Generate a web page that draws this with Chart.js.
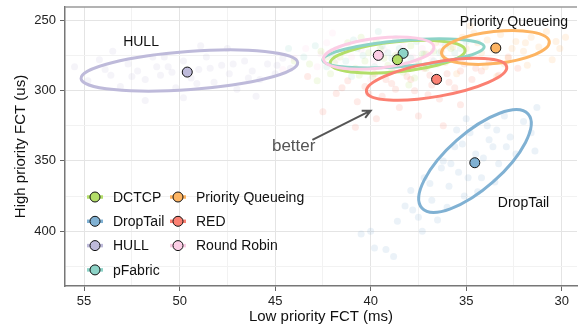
<!DOCTYPE html>
<html>
<head>
<meta charset="utf-8">
<script src="https://cdn.jsdelivr.net/npm/chart.js@4/dist/chart.umd.min.js"></script>
<style>
  html, body { margin: 0; padding: 0; background: #fff; }
  #wrap { width: 578px; height: 327px; }
</style>
</head>
<body>
<div id="wrap"><canvas id="grafico" width="578" height="327"></canvas></div>
<script>
// series (legend order) and colours
const seriesNames = ['DCTCP', 'DropTail', 'HULL', 'pFabric', 'Priority Queueing', 'RED', 'Round Robin'];
const seriesColors = ['#b3de69', '#80b1d3', '#bebada', '#8dd3c7', '#fdb462', '#fb8072', '#fccde5'];

// mean of each scheme (low prio FCT ms, high prio FCT us)
const meanX = [38.6, 34.55, 49.6, 38.3, 33.45, 36.55, 39.6];
const meanY = [278, 351.3, 286.8, 273.5, 269.7, 292, 274.9];

// ellipse: centre plus two conjugate half-axes, in data units
const ellCx = [38.59, 34.54, 49.49, 38.28, 33.47, 36.55, 39.58];
const ellCy = [275.9, 350.1, 285.7, 273.5, 269.3, 291.9, 273.3];
const ellUx = [-3.53, -2.78, -5.67, -4.22, -2.82, -3.67, -2.89];
const ellUy = [-4.77, -33.4, -5.69, -4.77, -4.13, -8.89, -4.48];
const ellVx = [-0.078, -0.96, -0.073, -0.057, -0.09, -0.157, -0.09];
const ellVy = [10.6, 14.7, 13.5, 9.21, 11.3, 12.0, 10.6];

// individual runs (faint dots)
const runsDCTCP = [[43.2,281],[42.6,272],[42.1,288],[41.6,276],[41.2,266],[40.8,284],[40.3,279],[39.9,290],[39.5,270],[39.1,282],[38.7,275],[38.3,287],[37.9,268],[37.5,279],[37.1,284],[36.7,272],[36.2,277],[35.8,270],[40.5,262],[42.8,293],[38,296],[44,279],
  [41.9,280],[40.1,273],[39.3,277],[38.9,286],[37.3,274],[36.5,281],[42.3,276],[40.6,289],[39.7,265],[37.7,291]];
const runsDropTail = [[40.5,402],[40,400],[39.8,412],[39.2,413],[38.6,393],[38.2,382],[37.9,371],[37.5,390],[37.2,362],[36.8,378],[36.5,392],[36.2,350],[35.9,368],[35.6,340],[35.4,358],[35.1,375],[34.8,330],[34.5,345],[34.2,362],[33.9,325],[33.6,340],[33.3,352],[33,318],[32.7,333],[32.4,345],[32,322],[31.6,330],[31.3,312],[36.3,355],[35,320],[33.5,365],[38.8,418],[37.3,400],[31.4,343],
  [35.8,352],[35.2,338],[34.9,362],[34.1,348],[33.8,335],[35.5,328],[36.9,366],[34.4,372],[32.9,340],[33.4,328],[36,383],[37.8,385]];
const runsHULL = [[55.5,283],[54.8,293],[54.2,278],[53.6,289],[53.1,297],[52.7,281],[52.2,286],[51.8,292],[51.4,276],[51,289],[50.6,283],[50.2,298],[49.8,279],[49.4,291],[49,285],[48.6,276],[48.2,294],[47.8,282],[47.4,288],[47,299],[46.6,279],[46.2,286],[45.8,292],[45.4,281],[45,288],[44.6,277],[44.2,284],[48.9,268],[51.8,307],[49.8,305],[47.5,270],[53.5,272],[46,304],
  [52.5,290],[51.2,283],[50.4,287],[48.4,284],[47.2,281],[46.4,291],[50.8,276],[44.9,282],[53.9,285],[49.1,295]];
const runsPFabric = [[43.5,276],[42.9,268],[42.3,283],[41.8,271],[41.3,279],[40.9,264],[40.4,275],[39.8,283],[39.4,268],[38.9,277],[38.5,270],[38.1,281],[37.6,265],[37.2,274],[36.7,279],[36.1,268],[35.6,273],[35,265],[39.6,258],[41,290],[44.3,270],
  [42,275],[40.7,270],[39.1,273],[37.9,277],[36.4,273],[35.3,270],[38.7,263],[41.5,284]];
const runsPQ = [[37.1,274],[36.6,266],[36.1,280],[35.7,269],[35.2,262],[34.8,276],[34.4,266],[34,283],[33.6,271],[33.2,260],[32.8,277],[32.4,265],[32,272],[31.6,262],[31.2,269],[30.8,258],[30.3,265],[29.8,262],[33.4,290],[35.5,288],[30.5,278],[34.8,254],[31.8,282],
  [35,270],[34.2,273],[33.9,264],[32.6,270],[31.9,266],[33,281],[34.6,259],[36.3,272],[30.1,270]];
const runsRED = [[41.8,302],[41.2,293],[40.7,308],[40.3,297],[39.8,288],[39.4,304],[38.9,295],[38.5,312],[38.1,290],[37.7,300],[37.2,284],[36.8,296],[36.4,306],[36,288],[35.6,298],[35.1,281],[34.7,292],[34.2,286],[33.8,280],[33.3,289],[32.8,276],[32.3,284],[42.5,315],[39.7,320],[37.5,318],[35.3,310],[43.3,290],[36.2,325],[40.8,326],
  [38.7,299],[37.9,292],[36.9,289],[35.9,294],[35.3,286],[39.2,292],[34.5,284],[37,303],[40.1,302],[41.5,298]];
const runsRR = [[44,277],[43.4,270],[42.8,283],[42.3,266],[41.8,278],[41.3,272],[40.8,285],[40.3,266],[39.8,279],[39.3,271],[38.8,283],[38.3,268],[37.8,276],[37.3,270],[36.8,278],[36.3,266],[42,259],[40,292],[44.6,285],
  [41,276],[40.5,271],[39.6,276],[38.6,274],[42.6,274],[37.6,281]];
const runs = [runsDCTCP, runsDropTail, runsHULL, runsPFabric, runsPQ, runsRED, runsRR];

// axis ticks (major get labels, minor only grid)
const xMajor = [30, 35, 40, 45, 50, 55];
const xMinor = [32.5, 37.5, 42.5, 47.5, 52.5];
const yMajor = [250, 300, 350, 400];
const yMinor = [275, 325, 375, 425];

// text annotations on the plot
const noteText = ['HULL', 'Priority Queueing', 'DropTail'];
const noteX = [52.02, 32.5, 32.0];
const noteY = [265.2, 251, 380.2];
const arrowFrom = [43.05, 335.1];
const arrowTo = [40.0, 314.3];
const betterPos = [44.03, 339.4];

const FONT = '"Liberation Sans", Arial, Helvetica, sans-serif';

function rgba(hex, a) {
  const n = parseInt(hex.slice(1), 16);
  return `rgba(${n >> 16},${(n >> 8) & 255},${n & 255},${a})`;
}

const datasets = [];
seriesNames.forEach((nombre, i) => {
  datasets.push({
    label: nombre,
    data: [{ x: meanX[i], y: meanY[i] }],
    backgroundColor: seriesColors[i],
    borderColor: '#111',
    borderWidth: 1,
    pointRadius: 5
  });
});
seriesNames.forEach((nombre, i) => {
  datasets.push({
    label: nombre + ' runs',
    data: runs[i].map(p => ({ x: p[0], y: p[1] })),
    backgroundColor: rgba(seriesColors[i], 0.16),
    borderWidth: 0,
    pointRadius: 3.5
  });
});

// ellipses go on top of the faint dots, under the means
const elipses = {
  id: 'elipses',
  afterDatasetDraw(chart, args) {
    if (args.index !== seriesNames.length) return;
    const ctx = chart.ctx;
    const sx = chart.scales.x, sy = chart.scales.y;
    const a = chart.chartArea;
    ctx.save();
    ctx.beginPath();
    ctx.rect(a.left, a.top, a.right - a.left, a.bottom - a.top);
    ctx.clip();
    for (let i = 0; i < seriesNames.length; i++) {
      const cx = sx.getPixelForValue(ellCx[i]);
      const cy = sy.getPixelForValue(ellCy[i]);
      const ux = sx.getPixelForValue(ellCx[i] + ellUx[i]) - cx;
      const uy = sy.getPixelForValue(ellCy[i] + ellUy[i]) - cy;
      const vx = sx.getPixelForValue(ellCx[i] + ellVx[i]) - cx;
      const vy = sy.getPixelForValue(ellCy[i] + ellVy[i]) - cy;
      ctx.save();
      ctx.beginPath();
      ctx.transform(ux, uy, vx, vy, cx, cy);
      ctx.arc(0, 0, 1, 0, Math.PI * 2);
      ctx.restore();
      ctx.strokeStyle = seriesColors[i];
      ctx.lineWidth = 3;
      ctx.stroke();
    }
    ctx.restore();
  }
};

const extras = {
  id: 'extras',
  afterDraw(chart) {
    const ctx = chart.ctx;
    const sx = chart.scales.x, sy = chart.scales.y;
    const a = chart.chartArea;
    ctx.save();
    // top border of the panel
    ctx.strokeStyle = '#9a9a9a';
    ctx.lineWidth = 1.5;
    ctx.beginPath();
    ctx.moveTo(a.left, a.top);
    ctx.lineTo(a.right, a.top);
    ctx.stroke();

    // labels
    ctx.fillStyle = '#111';
    ctx.font = '14px ' + FONT;
    ctx.textAlign = 'center';
    ctx.textBaseline = 'middle';
    noteText.forEach((t, i) => {
      ctx.fillText(t, sx.getPixelForValue(noteX[i]), sy.getPixelForValue(noteY[i]));
    });

    // better arrow
    const x0 = sx.getPixelForValue(arrowFrom[0]), y0 = sy.getPixelForValue(arrowFrom[1]);
    const x1 = sx.getPixelForValue(arrowTo[0]), y1 = sy.getPixelForValue(arrowTo[1]);
    ctx.strokeStyle = '#555';
    ctx.lineWidth = 2;
    ctx.beginPath();
    ctx.moveTo(x0, y0);
    ctx.lineTo(x1, y1);
    const ang = Math.atan2(y1 - y0, x1 - x0);
    ctx.moveTo(x1 - 9 * Math.cos(ang - 0.45), y1 - 9 * Math.sin(ang - 0.45));
    ctx.lineTo(x1, y1);
    ctx.lineTo(x1 - 9 * Math.cos(ang + 0.45), y1 - 9 * Math.sin(ang + 0.45));
    ctx.stroke();
    ctx.fillStyle = '#555';
    ctx.font = '17px ' + FONT;
    ctx.fillText('better', sx.getPixelForValue(betterPos[0]), sy.getPixelForValue(betterPos[1]));

    // legend, two columns inside the panel
    ctx.font = '14px ' + FONT;
    ctx.textAlign = 'left';
    const filas = 4;
    seriesNames.forEach((nombre, i) => {
      const col = Math.floor(i / filas), fila = i % filas;
      const cx = a.left + 30 + col * 83;
      const cy = a.top + 190 + fila * 24.3;
      ctx.strokeStyle = seriesColors[i];
      ctx.lineWidth = 3.5;
      ctx.beginPath();
      ctx.moveTo(cx - 8, cy);
      ctx.lineTo(cx + 8, cy);
      ctx.stroke();
      ctx.beginPath();
      ctx.arc(cx, cy, 5, 0, Math.PI * 2);
      ctx.fillStyle = seriesColors[i];
      ctx.fill();
      ctx.strokeStyle = '#111';
      ctx.lineWidth = 1;
      ctx.stroke();
      ctx.fillStyle = '#111';
      ctx.fillText(nombre, cx + 18, cy + 1);
    });
    ctx.restore();
  }
};

function gridOpts(major) {
  return {
    color: c => (c.tick && major.includes(c.tick.value)) ? '#e4e4e4' : '#f2f2f2',
    tickColor: c => (c.tick && major.includes(c.tick.value)) ? '#666' : 'rgba(0,0,0,0)',
    tickLength: 5,
    lineWidth: 1
  };
}

const grafico = new Chart(document.getElementById('grafico').getContext('2d'), {
  type: 'scatter',
  data: { datasets },
  plugins: [elipses, extras],
  options: {
    responsive: false,
    animation: false,
    layout: { autoPadding: false, padding: { top: 7, right: 1, left: 0, bottom: 0 } },
    plugins: { legend: { display: false }, tooltip: { enabled: false } },
    scales: {
      x: {
        type: 'linear',
        reverse: true,
        min: 29.2,
        max: 56,
        afterBuildTicks: s => { s.ticks = xMajor.concat(xMinor).map(v => ({ value: v })); },
        afterFit: s => { s.height = 41; s.paddingLeft = 0; s.paddingRight = 0; },
        ticks: {
          autoSkip: false, maxRotation: 0, padding: 3,
          color: '#222', font: { family: FONT, size: 13 },
          callback: v => xMajor.includes(v) ? String(v) : ''
        },
        grid: gridOpts(xMajor),
        border: { color: '#777', width: 1.5 },
        title: {
          display: true, text: 'Low priority FCT (ms)', color: '#111',
          font: { family: FONT, size: 15 }, padding: { top: 0, bottom: 1 }
        }
      },
      y: {
        type: 'linear',
        reverse: true,
        min: 240.5,
        max: 439,
        afterBuildTicks: s => { s.ticks = yMajor.concat(yMinor).map(v => ({ value: v })); },
        afterFit: s => { s.width = 65; s.paddingTop = 0; s.paddingBottom = 0; },
        ticks: {
          autoSkip: false, padding: 4,
          color: '#222', font: { family: FONT, size: 13 },
          callback: v => yMajor.includes(v) ? String(v) : ''
        },
        grid: gridOpts(yMajor),
        border: { color: '#777', width: 1.5 },
        title: {
          display: true, text: 'High priority FCT (us)', color: '#111',
          font: { family: FONT, size: 15 }, padding: { top: 12, bottom: 0 }
        }
      }
    }
  }
});
</script>
</body>
</html>
